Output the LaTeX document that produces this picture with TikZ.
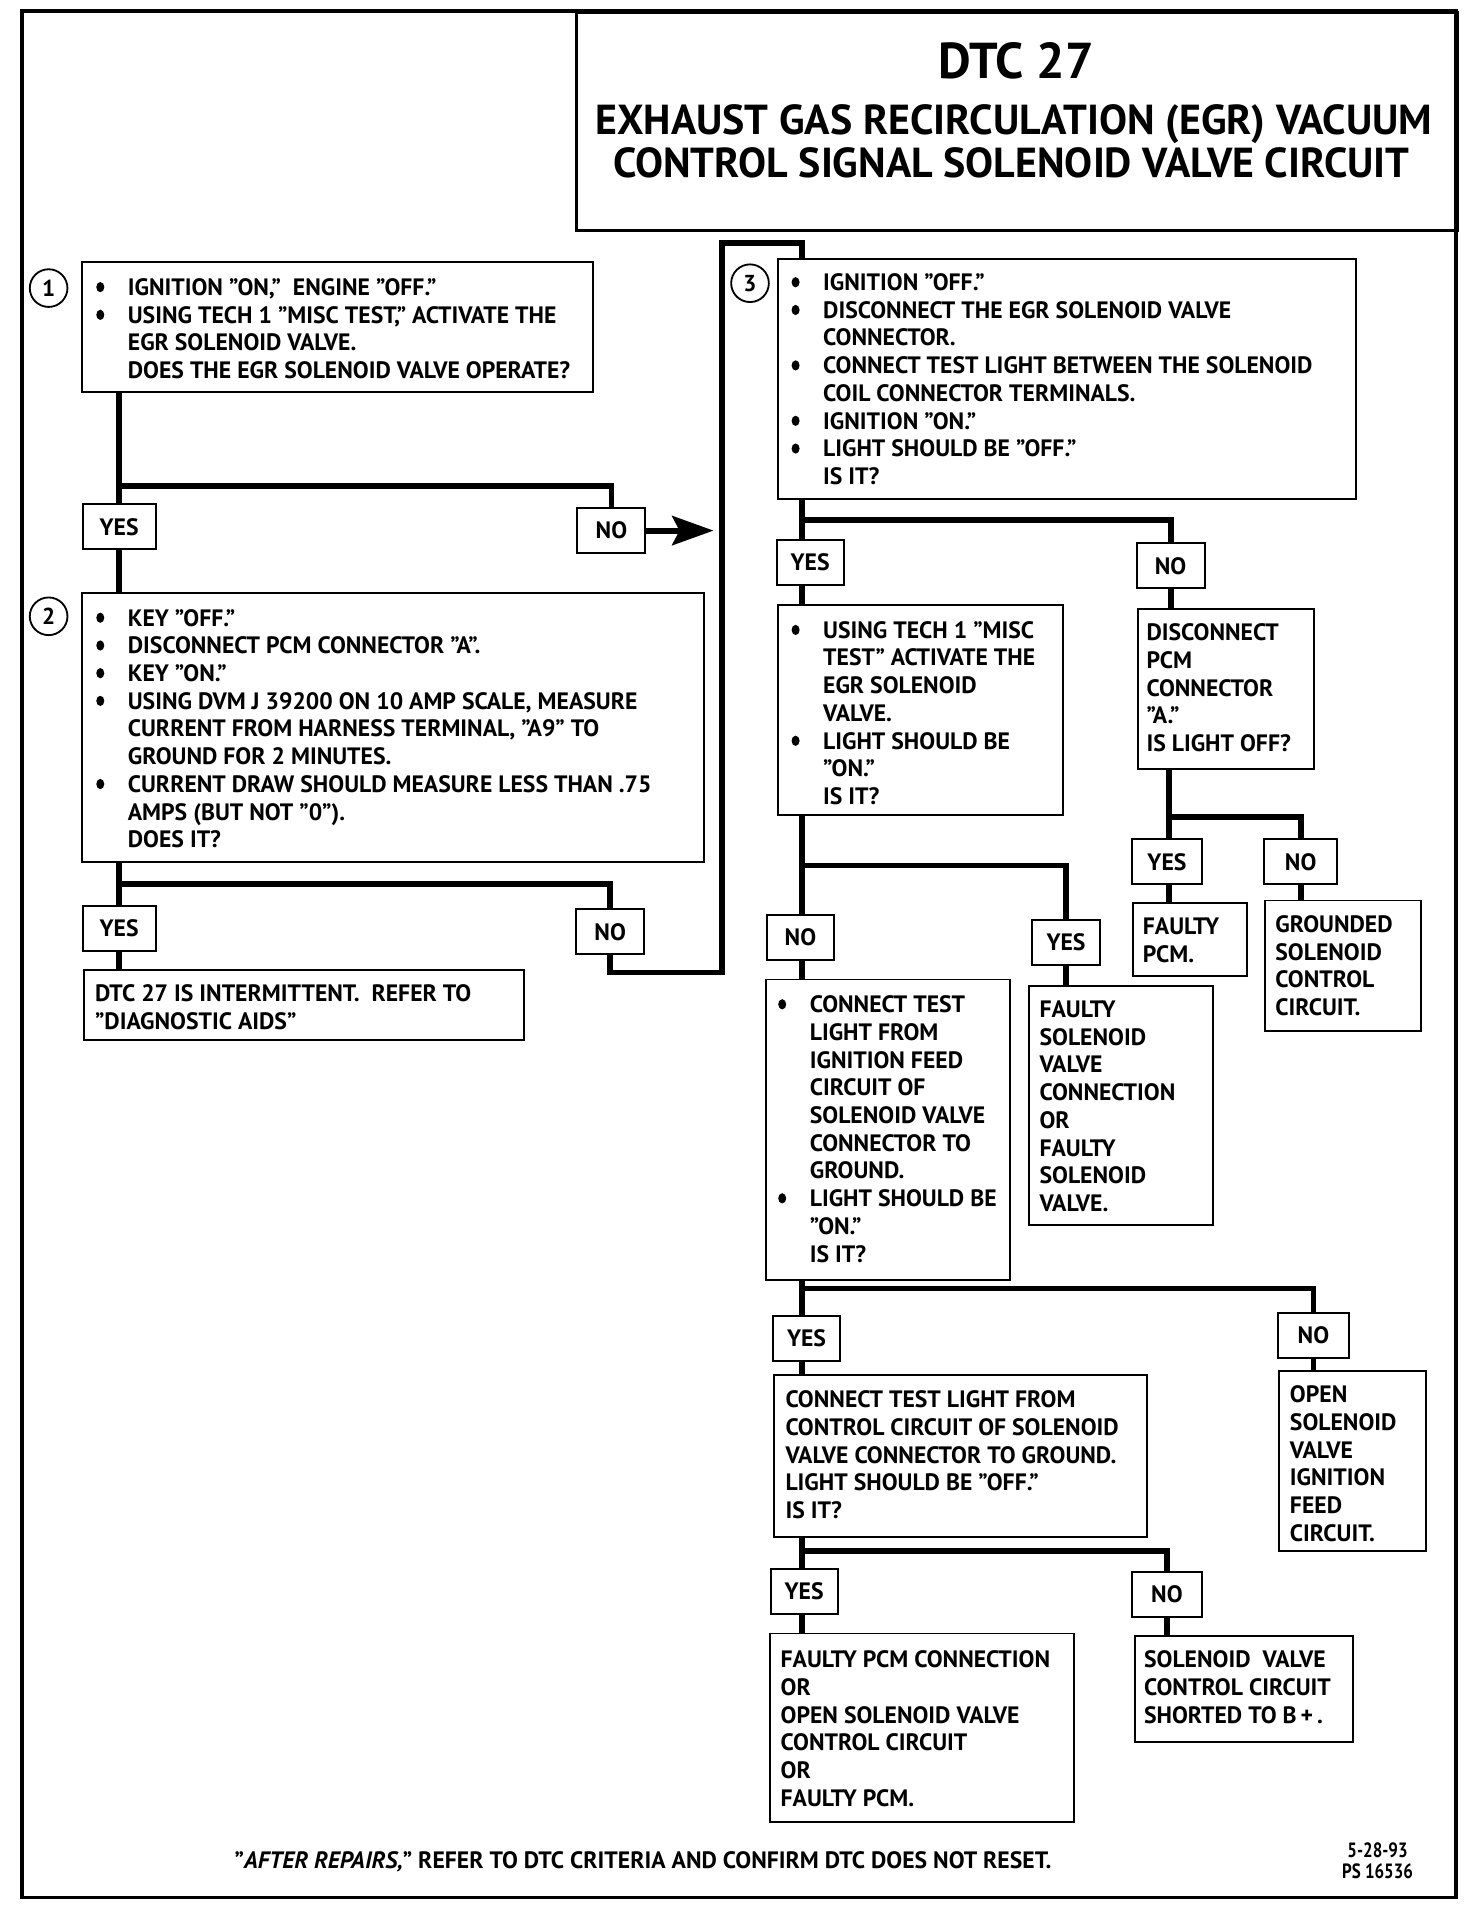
\documentclass[tikz,border=0pt]{standalone}
\usepackage{fontspec}
\setmainfont{PT Sans}
\usetikzlibrary{arrows.meta}
\newcommand\mybul{\makebox[26pt][l]{\tikz[x=1pt,y=1pt,baseline=0pt]\fill[black] (3.3,6.8) ellipse [x radius=3.3, y radius=4.2];}}
\newcommand\myind{\hspace*{26pt}}
\newcommand\fst{\rule{0pt}{14pt}}
\tikzset{
 bx/.style={draw, line width=1.6pt, rectangle, inner sep=0pt, anchor=north west},
 tx/.style={anchor=north west, inner sep=0pt, align=left, font=\fontsize{19.5}{22.8}\selectfont\bfseries},
 lab/.style={draw, line width=1.6pt, rectangle, inner sep=0pt, minimum height=37pt, font=\fontsize{19.5}{22.8}\selectfont\bfseries},
 conn/.style={line width=4.8pt},
 num/.style={circle, draw, line width=1.5pt, minimum size=31pt, inner sep=0pt, font=\fontsize{19}{20}\selectfont\bfseries},
}
\begin{document}
\begin{tikzpicture}[x=1pt,y=-1pt]
\useasboundingbox (0,0) rectangle (1211,1568);
\draw[line width=3pt] (18,9) rectangle (1198,1561);
% title
\node[bx, line width=2.5pt, minimum width=725pt, minimum height=179pt] (title) at (473,9) {};
\node[font=\fontsize{41.5}{44}\selectfont\bfseries] (t1) at (836,50) {DTC 27};
\node[font=\fontsize{34.5}{36}\selectfont\bfseries] (t2) at (834,102) {EXHAUST GAS RECIRCULATION (EGR) VACUUM};
\node[font=\fontsize{34.5}{36}\selectfont\bfseries] (t3) at (832,134) {CONTROL SIGNAL SOLENOID VALVE CIRCUIT};
% coordinates
\coordinate (col) at (660,0);
\coordinate (col5) at (962,0);
\coordinate (br1) at (0,400);
\coordinate (br2) at (0,727);
\coordinate (br3) at (0,428);
\coordinate (br4) at (0,712);
\coordinate (br5) at (0,672);
\coordinate (br6) at (0,1060);
\coordinate (br8) at (0,1276);
\coordinate (r1) at (594,800);
\coordinate (r2) at (594,200);
\coordinate (tip1) at (587,0);
% step 1
\node[num] (c1) at (40,237) {1};
\node[bx, minimum width=420pt, minimum height=107pt] (b1) at (67,215) {};
\node[tx] (b1t) at (79,228.8) {\fst\mybul IGNITION "ON,"\ \ ENGINE "OFF."\\
\mybul USING TECH 1 "MISC TEST," ACTIVATE THE\\
\myind EGR SOLENOID VALVE.\\
\myind DOES THE EGR SOLENOID VALVE OPERATE?};
\node[lab, minimum width=60pt] (y1) at (98,433.5) {YES};
\node[lab, minimum width=56pt] (n1) at (503,436.5) {NO};
\draw[conn] (b1.south -| y1) -- (y1.north);
\draw[conn] (y1 |- br1) -| (n1.north);
\draw[conn, -{Stealth[length=34pt,width=24pt,inset=6pt]}] (n1.east) -- (n1.east -| tip1);
% step 2
\node[num] (c2) at (40,507) {2};
\node[bx, minimum width=511pt, minimum height=221pt] (b2) at (67,487) {};
\draw[conn] (y1.south) -- (y1.south |- b2.north);
\node[tx] (b2t) at (79,500.8) {\fst\mybul KEY "OFF."\\
\mybul DISCONNECT PCM CONNECTOR "A".\\
\mybul KEY "ON."\\
\mybul USING DVM J 39200 ON 10 AMP SCALE, MEASURE\\
\myind CURRENT FROM HARNESS TERMINAL, "A9" TO\\
\myind GROUND FOR 2 MINUTES.\\
\mybul CURRENT DRAW SHOULD MEASURE LESS THAN .75\\
\myind AMPS (BUT NOT "0").\\
\myind DOES IT?};
\node[lab, minimum width=60pt] (y2) at (98,763.5) {YES};
\node[lab, minimum width=56pt] (n2) at (502,766.5) {NO};
\draw[conn] (b2.south -| y2) -- (y2.north);
\draw[conn] (y2 |- br2) -| (n2.north);
\node[bx, minimum width=362pt, minimum height=58pt] (bdtc) at (68,797) {};
\draw[conn] (y2.south) -- (y2.south |- bdtc.north);
\node[tx] (bdtct) at (78,809.8) {\fst DTC 27 IS INTERMITTENT.\ \ REFER TO\\
"DIAGNOSTIC AIDS"};
% return to step 3
\node[bx, minimum width=476pt, minimum height=198pt] (b3) at (639,212) {};
\draw[conn] (n2.south) |- (r1) -- (r2) -| (b3.north -| col);
% step 3
\node[num] (c3) at (617,233) {3};
\node[tx] (b3t) at (651,224.8) {\fst\mybul IGNITION "OFF."\\
\mybul DISCONNECT THE EGR SOLENOID VALVE\\
\myind CONNECTOR.\\
\mybul CONNECT TEST LIGHT BETWEEN THE SOLENOID\\
\myind COIL CONNECTOR TERMINALS.\\
\mybul IGNITION "ON."\\
\mybul LIGHT SHOULD BE "OFF."\\
\myind IS IT?};
\node[lab, minimum width=55pt] (y3) at (666.5,462.5) {YES};
\node[lab, minimum width=56pt] (n3) at (963,465.5) {NO};
\draw[conn] (b3.south -| col) -- (y3.north -| col);
\draw[conn] (col |- br3) -| (n3.north);
% step 4 (yes of 3)
\node[bx, minimum width=235pt, minimum height=173pt] (b4) at (639,497) {};
\draw[conn] (y3.south -| col) -- (b4.north -| col);
\node[tx] (b4t) at (651,510.8) {\fst\mybul USING TECH 1 "MISC\\
\myind TEST" ACTIVATE THE\\
\myind EGR SOLENOID\\
\myind VALVE.\\
\mybul LIGHT SHOULD BE\\
\myind "ON."\\
\myind IS IT?};
% step 5 (no of 3)
\node[bx, minimum width=145pt, minimum height=132pt] (b5) at (935,500) {};
\draw[conn] (n3.south) -- (n3.south |- b5.north);
\node[tx] (b5t) at (943,512.8) {\fst DISCONNECT\\
PCM\\
CONNECTOR\\
"A."\\
IS LIGHT OFF?};
\node[lab, minimum width=58pt] (y5) at (960,709) {YES};
\node[lab, minimum width=60pt] (n5) at (1070,709) {NO};
\draw[conn] (b5.south -| col5) -- (y5.north -| col5);
\draw[conn] (col5 |- br5) -| (n5.north);
\node[bx, minimum width=94pt, minimum height=60pt] (bf) at (931,742) {};
\draw[conn] (y5.south -| col5) -- (bf.north -| col5);
\node[tx] (bft) at (940,754.8) {\fst FAULTY\\
PCM.};
\node[bx, minimum width=128pt, minimum height=107pt] (bg) at (1040,740) {};
\draw[conn] (n5.south) -- (n5.south |- bg.north);
\node[tx] (bgt) at (1049,752.8) {\fst GROUNDED\\
SOLENOID\\
CONTROL\\
CIRCUIT.};
% branches of step 4
\node[lab, minimum width=55pt] (n4) at (658.5,771) {NO};
\node[lab, minimum width=56pt] (y4) at (877,775) {YES};
\draw[conn] (b4.south -| col) -- (n4.north -| col);
\draw[conn] (col |- br4) -| (y4.north);
\node[bx, minimum width=201pt, minimum height=247pt] (b6) at (629,805) {};
\draw[conn] (n4.south -| col) -- (b6.north -| col);
\node[tx] (b6t) at (640,818.8) {\fst\mybul CONNECT TEST\\
\myind LIGHT FROM\\
\myind IGNITION FEED\\
\myind CIRCUIT OF\\
\myind SOLENOID VALVE\\
\myind CONNECTOR TO\\
\myind GROUND.\\
\mybul LIGHT SHOULD BE\\
\myind "ON."\\
\myind IS IT?};
\node[bx, minimum width=151pt, minimum height=197pt] (b7) at (846,810) {};
\draw[conn] (y4.south) -- (y4.south |- b7.north);
\node[tx] (b7t) at (855,822.8) {\fst FAULTY\\
SOLENOID\\
VALVE\\
CONNECTION\\
OR\\
FAULTY\\
SOLENOID\\
VALVE.};
% branches of step 6
\node[lab, minimum width=55pt] (y6) at (663.5,1101) {YES};
\node[lab, minimum width=59pt] (n6) at (1080.5,1098.5) {NO};
\draw[conn] (b6.south -| col) -- (y6.north -| col);
\draw[conn] (col |- br6) -| (n6.north);
\node[bx, minimum width=307pt, minimum height=134pt] (b8) at (636,1130) {};
\draw[conn] (y6.south -| col) -- (b8.north -| col);
\node[tx] (b8t) at (646,1143.8) {\fst CONNECT TEST LIGHT FROM\\
CONTROL CIRCUIT OF SOLENOID\\
VALVE CONNECTOR TO GROUND.\\
LIGHT SHOULD BE "OFF."\\
IS IT?};
\node[bx, minimum width=121pt, minimum height=148pt] (b9) at (1051,1127) {};
\draw[conn] (n6.south) -- (n6.south |- b9.north);
\node[tx] (b9t) at (1061,1139.8) {\fst OPEN\\
SOLENOID\\
VALVE\\
IGNITION\\
FEED\\
CIRCUIT.};
% branches of step 8
\node[lab, minimum width=55pt] (y8) at (661.5,1309) {YES};
\node[lab, minimum width=58pt] (n8) at (960,1311.5) {NO};
\draw[conn] (b8.south -| col) -- (y8.north -| col);
\draw[conn] (col |- br8) -| (n8.north);
\node[bx, minimum width=250pt, minimum height=155pt] (b10) at (633,1343) {};
\draw[conn] (y8.south -| col) -- (b10.north -| col);
\node[tx] (b10t) at (642,1357.8) {\fst FAULTY PCM CONNECTION\\
OR\\
OPEN SOLENOID VALVE\\
CONTROL CIRCUIT\\
OR\\
FAULTY PCM.};
\node[bx, minimum width=179pt, minimum height=87pt] (b11) at (933,1345) {};
\draw[conn] (n8.south) -- (n8.south |- b11.north);
\node[tx] (b11t) at (941,1357.8) {\fst SOLENOID\ \ VALVE\\
CONTROL CIRCUIT\\
SHORTED TO B\,+\,.};
% footer
\node[font=\fontsize{19.5}{20}\selectfont\bfseries] (foot) at (529,1532) {"\textit{AFTER REPAIRS,}" REFER TO DTC CRITERIA AND CONFIRM DTC DOES NOT RESET.};
\node[anchor=east, align=center, font=\fontsize{17}{17}\selectfont\bfseries] (date) at (1166,1531) {\scalebox{0.82}[1]{5-28-93}\\\scalebox{0.82}[1]{PS 16536}};
\end{tikzpicture}
\end{document}
